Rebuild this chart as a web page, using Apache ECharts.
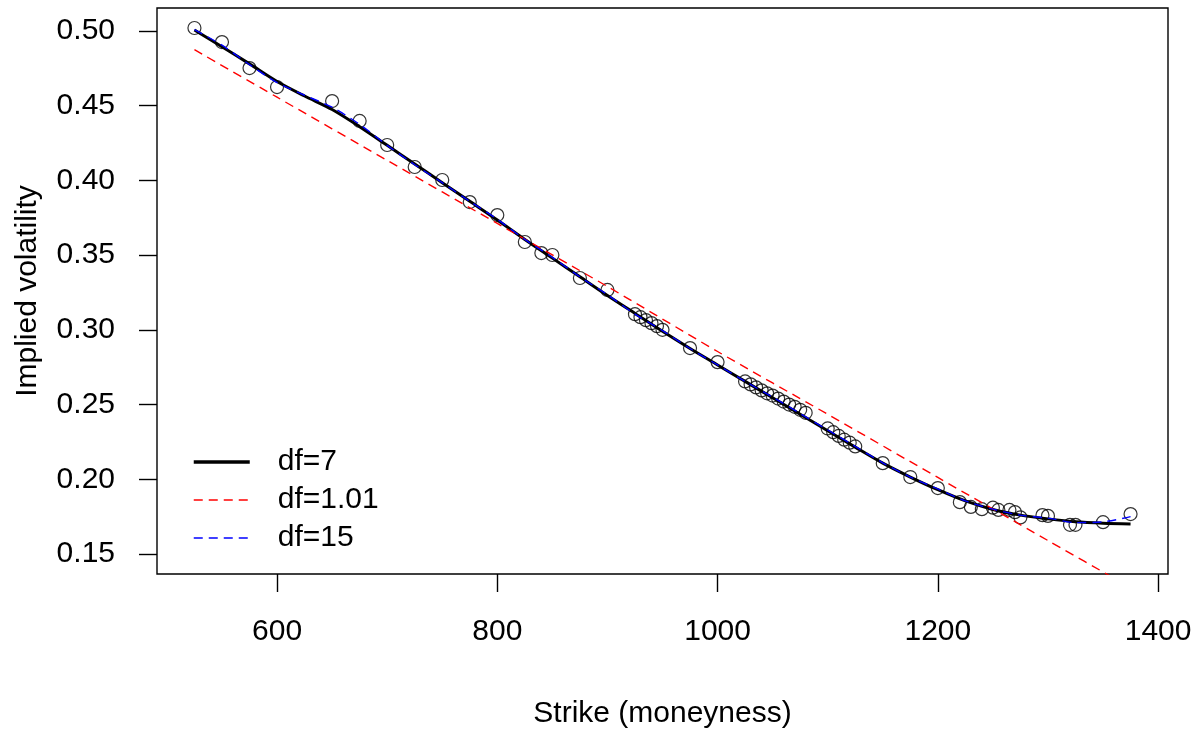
<!DOCTYPE html>
<html><head><meta charset="utf-8">
<script src="https://cdn.jsdelivr.net/npm/echarts@6/dist/echarts.min.js"></script>
<style>html,body{margin:0;padding:0;background:#fff}#c{width:1203px;height:734px}</style>
</head><body><div id="c"></div>
<script>
// Observed implied volatilities
const strikes = [525,550,575,600,650,675,700,725,750,775,800,825,840,850,875,900,925,930,935,940,945,950,975,1000,1025,1030,1035,1040,1045,1050,1055,1060,1065,1070,1075,1080,1100,1105,1110,1115,1120,1125,1150,1175,1200,1220,1230,1240,1250,1255,1265,1270,1275,1295,1300,1320,1325,1350,1375];
const impVol = [0.502,0.4926,0.4752,0.4625,0.4531,0.4398,0.4237,0.409,0.4003,0.3855,0.3768,0.3588,0.3514,0.3501,0.3347,0.3267,0.3105,0.3085,0.3065,0.3045,0.3025,0.300,0.2878,0.2784,0.2655,0.2635,0.2615,0.2595,0.2575,0.256,0.254,0.252,0.250,0.2485,0.2465,0.2445,0.234,0.2315,0.229,0.2265,0.2245,0.222,0.2108,0.2015,0.1941,0.1847,0.1815,0.180,0.181,0.1795,0.1795,0.178,0.1745,0.176,0.1755,0.1695,0.1695,0.1713,0.1767];
// Smoothing spline fits
const fitX = [525,550,575,600,625,650,675,700,725,750,775,800,825,850,875,900,925,950,975,1000,1025,1050,1075,1100,1125,1150,1175,1200,1225,1250,1275,1300,1325,1350,1375];
const fitDf7 = [0.5007,0.4895,0.478,0.4662,0.4565,0.4475,0.436,0.4235,0.411,0.3985,0.386,0.3735,0.3605,0.348,0.3355,0.323,0.311,0.299,0.2875,0.2765,0.2655,0.2545,0.2435,0.2325,0.2215,0.2108,0.2015,0.193,0.1855,0.1798,0.176,0.1735,0.1715,0.1705,0.170];
const fitDf15 = [0.501,0.4905,0.4775,0.4655,0.457,0.449,0.4375,0.4235,0.4105,0.3985,0.386,0.374,0.3605,0.3485,0.3355,0.3235,0.3105,0.2995,0.2875,0.2765,0.2655,0.255,0.244,0.233,0.222,0.211,0.2015,0.1935,0.1855,0.180,0.176,0.174,0.171,0.1715,0.175];
const fitRX = [525,600,700,800,900,1000,1100,1200,1300,1375];
const fitDf101 = [0.4875,0.4557,0.4134,0.3712,0.3290,0.2855,0.2435,0.2012,0.1590,0.1275];
const xTicks = [600,800,1000,1200,1400];
const yTicks = [0.15,0.20,0.25,0.30,0.35,0.40,0.45,0.50];
const legendNames = ['df=7','df=1.01','df=15'];

const zip = (a,b) => a.map((v,i)=>[v,b[i]]);
const font = 'Liberation Sans, Arial, sans-serif';
const FS = 30;
const DASH = [9,6];
const chart = echarts.init(document.getElementById('c'), null, {renderer:'canvas'});
chart.setOption({
  animation:false,
  backgroundColor:'#fff',
  grid:{left:157,right:35,top:8,bottom:160,show:true,borderColor:'#000',borderWidth:1.4,backgroundColor:'transparent'},
  legend:{
    data:[
      {name:legendNames[0],lineStyle:{width:3.5,color:'#000'}},
      {name:legendNames[1],lineStyle:{width:1.4,color:'#ff0000',type:DASH}},
      {name:legendNames[2],lineStyle:{width:1.4,color:'#0000ff',type:DASH}}
    ],
    orient:'vertical', left:187, top:442,
    itemWidth:56, itemHeight:14, itemGap:8,
    itemStyle:{opacity:0},
    textStyle:{fontFamily:font,fontSize:FS,color:'#000',padding:[0,0,0,23]}
  },
  xAxis:{
    type:'value', min:491, max:1409,
    name:'Strike (moneyness)', nameLocation:'middle', nameGap:125,
    nameTextStyle:{fontFamily:font,fontSize:FS,color:'#000'},
    axisLine:{show:false},
    axisTick:{show:true,length:18,lineStyle:{color:'#000',width:1.4},customValues:xTicks},
    axisLabel:{margin:43,fontFamily:font,fontSize:FS,color:'#000',customValues:xTicks,formatter:v=>String(v)},
    splitLine:{show:false}
  },
  yAxis:{
    type:'value', min:0.1366, max:0.5154,
    name:'Implied volatility', nameLocation:'middle', nameGap:114, nameRotate:90,
    nameTextStyle:{fontFamily:font,fontSize:FS,color:'#000'},
    axisLine:{show:false},
    axisTick:{show:true,length:18,lineStyle:{color:'#000',width:1.4},customValues:yTicks},
    axisLabel:{margin:42,fontFamily:font,fontSize:FS,color:'#000',customValues:yTicks,formatter:v=>v.toFixed(2)},
    splitLine:{show:false}
  },
  series:[
    {type:'scatter',name:'data',data:zip(strikes,impVol),symbol:'circle',symbolSize:13,
     itemStyle:{color:'transparent',borderColor:'#000',borderWidth:1.2},z:3},
    {type:'line',name:'df=7',data:zip(fitX,fitDf7),showSymbol:false,symbol:'none',smooth:0.3,
     lineStyle:{color:'#000',width:3},itemStyle:{color:'#000'},z:4},
    {type:'line',name:'df=1.01',data:zip(fitRX,fitDf101),showSymbol:false,symbol:'none',smooth:0.3,clip:true,
     lineStyle:{color:'#ff0000',width:1.4,type:DASH},itemStyle:{color:'#ff0000'},z:5},
    {type:'line',name:'df=15',data:zip(fitX,fitDf15),showSymbol:false,symbol:'none',smooth:0.3,
     lineStyle:{color:'#0000ff',width:1.4,type:DASH},itemStyle:{color:'#0000ff'},z:5}
  ]
});
</script></body></html>
